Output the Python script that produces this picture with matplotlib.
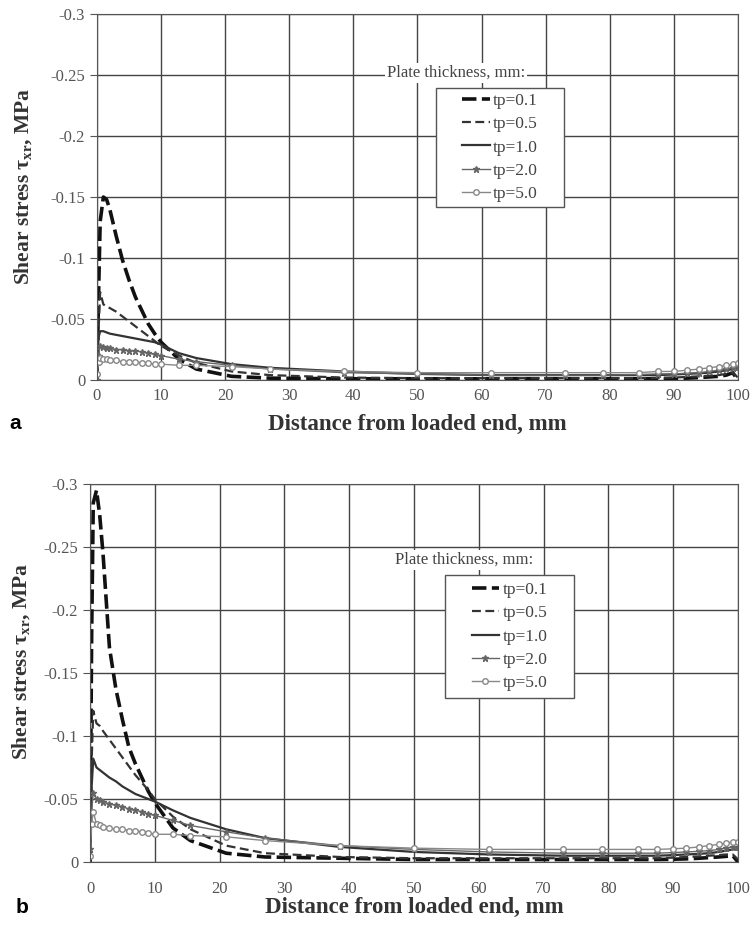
import numpy as np
import matplotlib
matplotlib.use('Agg')
import matplotlib.pyplot as plt
from matplotlib.patches import Rectangle

plt.rcParams['font.family'] = ['Liberation Serif', 'DejaVu Serif']
plt.rcParams['mathtext.fontset'] = 'custom'
plt.rcParams['mathtext.rm'] = 'Liberation Serif'
plt.rcParams['mathtext.it'] = 'Liberation Serif:italic'
plt.rcParams['mathtext.bf'] = 'Liberation Serif:bold'

# distance from loaded end (mm), mesh points of the model
x_mm = [0, 0.25, 0.5, 1, 1.5, 2, 3, 4, 5, 6, 7, 8, 9, 10, 12.8, 15.5, 21, 27, 38.5,
        50, 61.5, 73, 79, 84.5, 87.5, 90, 92, 94, 95.5, 97, 98.2, 99.2, 100]

labels = ['tp=0.1', 'tp=0.5', 'tp=1.0', 'tp=2.0', 'tp=5.0']

# panel a, shear stress (MPa)
a_tp01 = [0.0, -0.07, -0.13, -0.15, -0.148, -0.14, -0.118, -0.098, -0.082, -0.068, -0.057,
          -0.046, -0.038, -0.031, -0.017, -0.009, -0.003, -0.0015, -0.001, -0.001, -0.001,
          -0.001, -0.001, -0.001, -0.001, -0.0012, -0.0015, -0.002, -0.0025, -0.003, -0.004,
          -0.006, 0.0]
a_tp05 = [0.0, -0.04, -0.072, -0.062, -0.06, -0.059, -0.056, -0.052, -0.048, -0.044, -0.04,
          -0.036, -0.032, -0.028, -0.02, -0.014, -0.007, -0.004, -0.002, -0.0015, -0.0015,
          -0.0015, -0.0015, -0.0015, -0.0018, -0.002, -0.0025, -0.003, -0.0035, -0.004, -0.005,
          -0.006, -0.002]
a_tp10 = [0.0, -0.035, -0.04, -0.04, -0.039, -0.038, -0.037, -0.036, -0.035, -0.034, -0.033,
          -0.032, -0.031, -0.029, -0.022, -0.018, -0.013, -0.01, -0.007, -0.005, -0.004,
          -0.004, -0.004, -0.004, -0.004, -0.0045, -0.005, -0.0055, -0.006, -0.007, -0.008,
          -0.009, -0.01]
a_tp20 = [0.0, -0.02, -0.028, -0.027, -0.026, -0.026, -0.025, -0.025, -0.024, -0.024, -0.023,
          -0.022, -0.021, -0.02, -0.017, -0.015, -0.012, -0.009, -0.006, -0.005, -0.004,
          -0.004, -0.004, -0.0045, -0.005, -0.005, -0.0055, -0.006, -0.007, -0.008, -0.009,
          -0.01, -0.011]
a_tp50 = [-0.005, -0.015, -0.018, -0.017, -0.017, -0.016, -0.016, -0.015, -0.015, -0.015,
          -0.014, -0.014, -0.013, -0.013, -0.012, -0.012, -0.011, -0.009, -0.007, -0.006,
          -0.006, -0.006, -0.006, -0.006, -0.007, -0.007, -0.008, -0.009, -0.01, -0.011,
          -0.012, -0.013, -0.014]

# panel b, shear stress (MPa)
b_tp01 = [0.0, -0.18, -0.285, -0.295, -0.275, -0.245, -0.17, -0.137, -0.113, -0.091, -0.078,
          -0.067, -0.056, -0.047, -0.027, -0.017, -0.007, -0.004, -0.003, -0.002, -0.002,
          -0.002, -0.002, -0.002, -0.002, -0.0022, -0.0025, -0.003, -0.0035, -0.004, -0.0045,
          -0.005, 0.0]
b_tp05 = [0.0, -0.08, -0.12, -0.11, -0.108, -0.104, -0.097, -0.09, -0.083, -0.076, -0.069,
          -0.063, -0.057, -0.05, -0.036, -0.026, -0.013, -0.007, -0.004, -0.003, -0.003,
          -0.003, -0.003, -0.003, -0.003, -0.0035, -0.004, -0.0045, -0.005, -0.0055, -0.006,
          -0.006, -0.002]
b_tp10 = [0.0, -0.06, -0.082, -0.075, -0.073, -0.071, -0.067, -0.064, -0.06, -0.057, -0.054,
          -0.052, -0.05, -0.048, -0.041, -0.035, -0.026, -0.019, -0.012, -0.008, -0.006,
          -0.005, -0.005, -0.005, -0.005, -0.0055, -0.006, -0.0065, -0.007, -0.008, -0.009,
          -0.01, -0.01]
b_tp20 = [-0.01, -0.04, -0.055, -0.05, -0.049, -0.048, -0.046, -0.045, -0.044, -0.042, -0.041,
          -0.04, -0.038, -0.037, -0.033, -0.029, -0.024, -0.019, -0.013, -0.01, -0.008,
          -0.007, -0.007, -0.007, -0.007, -0.0075, -0.008, -0.0085, -0.009, -0.01, -0.011,
          -0.012, -0.012]
b_tp50 = [-0.005, -0.03, -0.04, -0.03, -0.029, -0.028, -0.027, -0.026, -0.026, -0.025, -0.025,
          -0.024, -0.023, -0.022, -0.022, -0.021, -0.02, -0.017, -0.013, -0.011, -0.01, -0.01,
          -0.01, -0.01, -0.01, -0.0105, -0.011, -0.012, -0.013, -0.014, -0.015, -0.016, -0.016]

yticks = [-0.3, -0.25, -0.2, -0.15, -0.1, -0.05, 0]
ytick_labels = ['-0.3', '-0.25', '-0.2', '-0.15', '-0.1', '-0.05', '0']
xticks = list(range(0, 101, 10))

styles = [
    dict(color='#111111', lw=2.6, ls=(0, (4, 1.5))),
    dict(color='#333333', lw=1.6, ls=(0, (4, 2))),
    dict(color='#333333', lw=1.6, ls='-'),
    dict(color='#666666', lw=1.0, ls='-', marker='*', ms=4.5),
    dict(color='#888888', lw=1.0, ls='-', marker='o', ms=4, mfc='white'),
]

fig = plt.figure(figsize=(7.54, 9.30), dpi=100)


def draw_panel(rect, series, box, title_xy, ylab_x, tickpad, xlabpad):
    ax = fig.add_axes(rect)
    for ys, lab, st in zip(series, labels, styles):
        ax.plot(x_mm, ys, label=lab, **st)
    ax.set_xlim(0, 100)
    ax.set_ylim(0, -0.3)
    ax.set_yticks(yticks)
    ax.set_yticklabels(ytick_labels)
    ax.set_xticks(xticks)
    ax.grid(True, color='#444444', lw=1.0)
    ax.set_axisbelow(True)
    for s in ax.spines.values():
        s.set_color('#555555')
    ax.tick_params(axis='y', colors='#555555', labelsize=12, length=5, direction='out')
    ax.tick_params(axis='x', colors='#555555', labelsize=12, length=0, pad=tickpad)
    ax.set_ylabel(r'Shear stress $\mathbf{\tau_{xr}}$, MPa', fontsize=15.5,
                  fontweight='bold', color='#333333')
    ax.yaxis.set_label_coords(ylab_x, 0.53)
    ax.set_xlabel('Distance from loaded end, mm', fontsize=16.5, fontweight='bold',
                  color='#333333', labelpad=xlabpad)
    # legend box drawn as its own white rectangle
    x0, y0, w, h = box
    ax.add_patch(Rectangle((x0, y0), w, h, transform=ax.transAxes, facecolor='white',
                           edgecolor='#555555', lw=1.0, zorder=4))
    leg = ax.legend(loc='center', bbox_to_anchor=(x0 + w / 2, y0 + h / 2), frameon=False,
                    fontsize=12.5, labelspacing=0.42, handlelength=1.6, handletextpad=0.2)
    leg.set_zorder(5)
    for t in leg.get_texts():
        t.set_color('#444444')
    ax.text(title_xy[0], title_xy[1], 'Plate thickness, mm:', transform=ax.transAxes,
            ha='center', va='center', fontsize=12, color='#444444', zorder=5,
            bbox=dict(facecolor='white', edgecolor='none', pad=1.5))
    return ax


draw_panel([0.1286, 0.5914, 0.850, 0.3935], [a_tp01, a_tp05, a_tp10, a_tp20, a_tp50],
           (0.529, 0.473, 0.2, 0.325), (0.56, 0.839), -0.098, 6, 7)
draw_panel([0.1194, 0.0731, 0.8594, 0.4065], [b_tp01, b_tp05, b_tp10, b_tp20, b_tp50],
           (0.548, 0.434, 0.199, 0.325), (0.577, 0.799), -0.09, 14, 0)

fig.text(0.013, 0.545, 'a', fontsize=15, fontweight='bold', family='Liberation Sans',
         va='center')
fig.text(0.02, 0.024, 'b', fontsize=15, fontweight='bold', family='Liberation Sans',
         va='center')

fig.savefig('out.png', dpi=100, facecolor='white')
